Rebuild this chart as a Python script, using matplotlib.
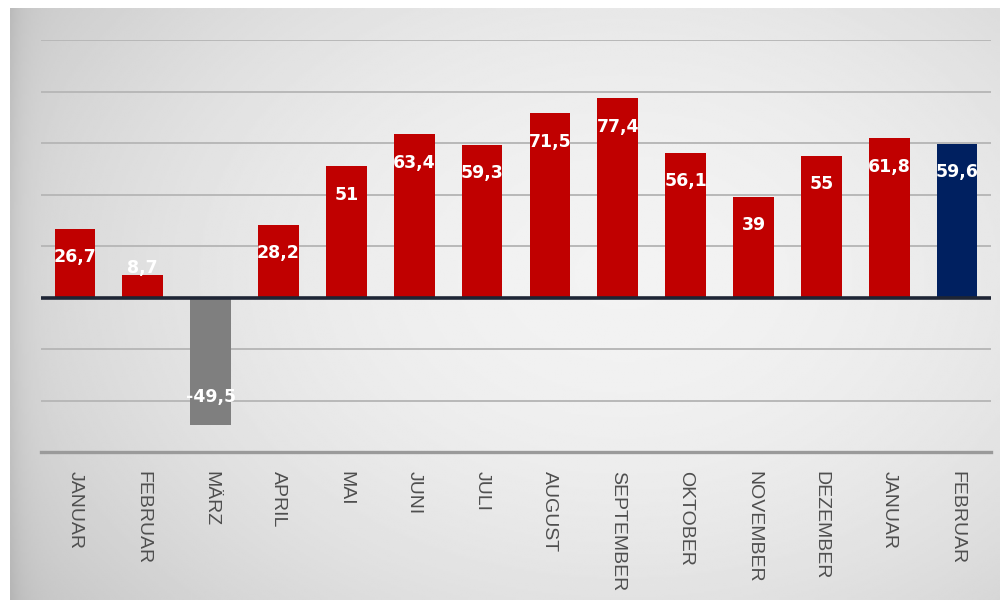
import matplotlib
matplotlib.use("Agg")
import matplotlib.pyplot as plt
import numpy as np

categories = ["JANUAR", "FEBRUAR", "MÄRZ", "APRIL", "MAI", "JUNI", "JULI",
              "AUGUST", "SEPTEMBER", "OKTOBER", "NOVEMBER", "DEZEMBER",
              "JANUAR", "FEBRUAR"]
values = [26.7, 8.7, -49.5, 28.2, 51, 63.4, 59.3, 71.5, 77.4, 56.1, 39, 55, 61.8, 59.6]
labels = ["26,7", "8,7", "-49,5", "28,2", "51", "63,4", "59,3", "71,5", "77,4",
          "56,1", "39", "55", "61,8", "59,6"]

RED = "#c00000"
GREY = "#7f7f7f"
NAVY = "#002060"
colors = [GREY if v < 0 else RED for v in values]
colors[-1] = NAVY

W, H = 1004, 605
fig = plt.figure(figsize=(W / 100, H / 100), dpi=100)
fig.patch.set_facecolor("white")

# gradient panel background
bg = fig.add_axes([10 / W, 1 - 600 / H, 990 / W, 592 / H])
yy, xx = np.mgrid[0:1:300j, 0:1:500j]
r2 = ((xx - 0.62) / 0.75) ** 2 + ((yy - 0.45) / 0.9) ** 2
img = np.clip(0.95 - 0.17 * r2, 0.76, 0.96)
edge = np.exp(-xx / 0.012) * 0.06
img = img - edge
bg.imshow(img, cmap="gray", vmin=0, vmax=1, aspect="auto",
          extent=[0, 1, 0, 1], interpolation="bilinear")
bg.set_axis_off()

ax = fig.add_axes([41 / W, 1 - 452 / H, 950 / W, 412 / H])
ax.patch.set_alpha(0)
x = np.arange(len(values))
ax.set_xlim(-0.5, len(values) - 0.5)
ax.set_ylim(-60, 100)

for gy in [-40, -20, 20, 40, 60, 80, 100]:
    ax.axhline(gy, color="#b8b8b8", lw=1.4, zorder=0)

ax.bar(x, values, width=0.6, color=colors, zorder=2)
ax.axhline(0, color="#1e2535", lw=2.6, zorder=3)

for xi, v, lab in zip(x, values, labels):
    ly = np.sign(v) * max(abs(v) - 11, 11.5)
    ax.text(xi, ly, lab, ha="center", va="center", color="white",
            fontsize=12.5, fontweight="bold", zorder=4)

for s in ["top", "right", "left"]:
    ax.spines[s].set_visible(False)
ax.spines["bottom"].set_color("#9a9a9a")
ax.spines["bottom"].set_linewidth(2.4)
ax.set_yticks([])
ax.set_xticks(x)
ax.set_xticklabels(categories, rotation=-90, color="#4f4f4f", fontsize=14,
                   family="Liberation Sans", va="top", ha="center")
ax.tick_params(axis="x", length=0, pad=14)

fig.savefig("out.png", dpi=100)
